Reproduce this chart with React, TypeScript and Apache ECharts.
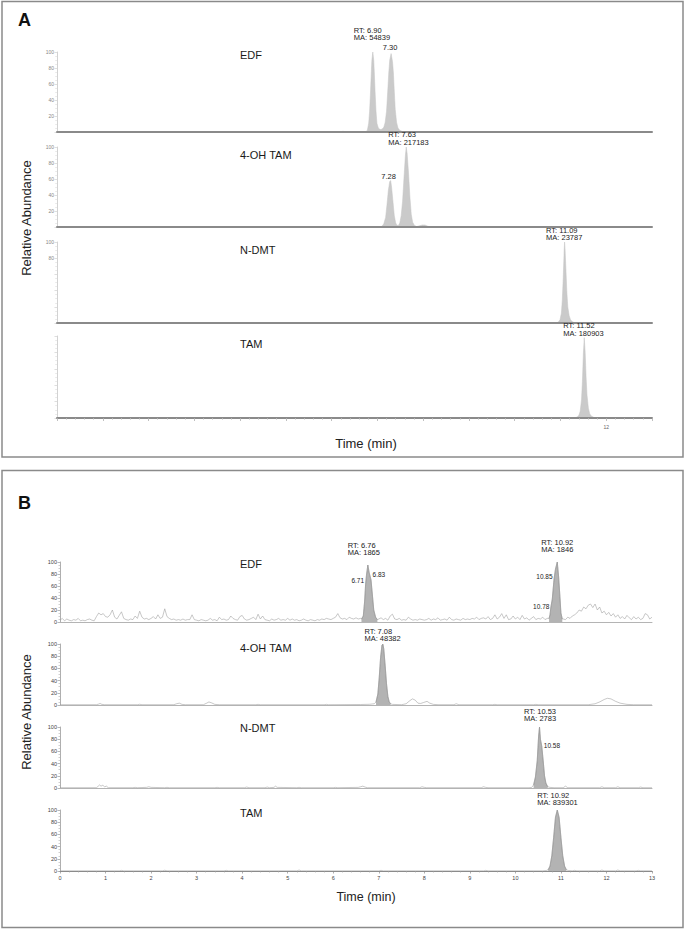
import React, { useEffect, useRef } from "react";
import * as echarts from "echarts";

type P = [number, number];

// ---------- shared axis data ----------
const TIME_MIN = 0;
const TIME_MAX = 13;
const COMPOUNDS = ["EDF", "4-OH TAM", "N-DMT", "TAM"];
const A_X_TICK_LABELS = [12];
const B_X_TICK_LABELS = [0, 1, 2, 3, 4, 5, 6, 7, 8, 9, 10, 11, 12, 13];
const A_Y_TICK_LABELS = [[20, 40, 60, 80, 100], [20, 40, 60, 80, 100], [80, 100], []];
const B_Y_TICK_LABELS = [0, 20, 40, 60, 80, 100];

// ---------- panel A traces (time, relative abundance) ----------
const A_EDF: P[] = [
  [0, 0], [6.2, 0], [6.25, 1], [6.3, 0], [6.74, 0], [6.78, 2], [6.81, 11], [6.83, 26], [6.85, 50],
  [6.87, 78], [6.88, 90], [6.9, 100], [6.92, 90], [6.93, 78], [6.95, 50], [6.97, 26], [6.99, 11],
  [7.02, 5], [7.06, 3], [7.1, 3.5], [7.14, 6], [7.17, 12], [7.2, 26], [7.22, 45], [7.25, 75],
  [7.27, 90], [7.3, 98], [7.33, 88], [7.35, 74], [7.37, 50], [7.39, 28], [7.42, 12], [7.45, 5],
  [7.49, 2], [7.55, 0.5], [7.6, 0], [13, 0],
];
const A_4OH: P[] = [
  [0, 0], [7.05, 0], [7.1, 1], [7.14, 4], [7.18, 12], [7.21, 28], [7.24, 46], [7.27, 57], [7.29, 58],
  [7.31, 50], [7.34, 32], [7.37, 14], [7.4, 5], [7.43, 2], [7.46, 2], [7.49, 5], [7.52, 14],
  [7.55, 32], [7.58, 60], [7.61, 88], [7.63, 100], [7.65, 92], [7.68, 68], [7.71, 38], [7.74, 16],
  [7.77, 6], [7.81, 2], [7.86, 0.5], [7.92, 1.5], [7.98, 2.5], [8.04, 2.5], [8.1, 1], [8.16, 0], [13, 0],
];
const A_NDMT: P[] = [
  [0, 0], [10.9, 0], [10.95, 1], [10.99, 4], [11.02, 12], [11.04, 28], [11.06, 55], [11.08, 88],
  [11.09, 100], [11.1, 92], [11.12, 65], [11.14, 38], [11.16, 20], [11.19, 9], [11.22, 4],
  [11.26, 1.5], [11.3, 0.5], [11.35, 0], [13, 0],
];
const A_TAM: P[] = [
  [0, 0], [11.3, 0], [11.36, 1], [11.4, 3], [11.43, 8], [11.46, 22], [11.48, 45], [11.5, 78],
  [11.52, 98], [11.54, 80], [11.56, 50], [11.58, 28], [11.61, 12], [11.64, 5], [11.68, 2],
  [11.74, 0.5], [11.8, 0], [13, 0],
];
const A_TRACES = [A_EDF, A_4OH, A_NDMT, A_TAM];
const A_RT = [6.9, 7.63, 11.09, 11.52];
const A_RT_LEVEL = [100, 100, 100, 98];
const A_MA = [54839, 217183, 23787, 180903];

// ---------- panel B traces ----------
const B_EDF_STEP = 0.05; // sampling step of the noise trace, min
const B_EDF_NOISE: number[] = [
  3, 6, 2, 5, 3, 2, 4, 3, 6, 2, 3, 2, 4, 5, 3, 2, 9, 15, 12, 14,
  9, 8, 12, 20, 8, 5, 11, 17, 6, 4, 3, 5, 4, 10, 6, 18, 8, 5, 6, 4,
  6, 9, 5, 12, 6, 8, 22, 9, 6, 4, 5, 3, 4, 3, 5, 3, 4, 4, 12, 4,
  3, 2, 4, 3, 2, 3, 6, 3, 4, 2, 8, 4, 5, 3, 4, 10, 6, 4, 3, 9,
  11, 5, 3, 4, 6, 8, 4, 13, 5, 10, 4, 3, 2, 5, 3, 4, 6, 3, 4, 3,
  6, 3, 5, 3, 4, 2, 3, 5, 3, 2, 4, 3, 2, 4, 3, 5, 4, 6, 5, 4,
  6, 8, 14, 7, 5, 6, 4, 8, 6, 5, 7, 5, 6, 8, 58, 94, 72, 45, 15, 4,
  5, 7, 4, 6, 3, 10, 13, 5, 4, 6, 3, 4, 3, 8, 5, 3, 4, 3, 5, 4,
  3, 4, 6, 3, 5, 4, 7, 3, 4, 5, 3, 8, 4, 3, 5, 4, 3, 6, 4, 5,
  4, 6, 5, 8, 4, 6, 7, 5, 9, 4, 6, 12, 5, 8, 14, 6, 12, 4, 5, 10,
  5, 8, 4, 11, 5, 7, 3, 6, 9, 4, 6, 5, 8, 4, 6, 8, 22, 70, 95, 70,
  15, 5, 4, 8, 6, 10, 12, 15, 20, 18, 25, 22, 28, 30, 24, 30, 20, 25, 15, 18,
  12, 16, 10, 14, 8, 12, 6, 9, 5, 11, 7, 4, 9, 5, 8, 4, 6, 14, 12, 5,
  8,
];
const B_EDF_PEAK1: P[] = [
  [6.62, 5], [6.66, 10], [6.69, 35], [6.71, 62], [6.73, 78], [6.76, 95], [6.79, 82], [6.83, 70],
  [6.86, 45], [6.89, 20], [6.93, 8], [6.97, 4],
];
const B_EDF_PEAK2: P[] = [
  [10.74, 6], [10.76, 12], [10.78, 25], [10.81, 38], [10.85, 72], [10.88, 88], [10.92, 100],
  [10.95, 75], [10.98, 40], [11.0, 15], [11.03, 5],
];
const B_4OH: P[] = [
  [0, 0.5], [0.8, 0.5], [0.85, 1.5], [0.88, 2.5], [0.92, 1], [0.98, 0.5], [1.7, 0.5], [1.75, 1.2],
  [1.8, 0.5], [2.5, 0.5], [2.56, 2], [2.62, 3], [2.68, 1], [2.75, 0.5], [3.15, 0.5], [3.22, 3],
  [3.27, 5], [3.33, 3.5], [3.4, 1], [3.5, 0.5], [4.3, 0.5], [4.35, 1], [4.4, 0.5], [5.8, 0.5],
  [5.85, 1], [5.9, 0.5], [6.6, 0.8], [6.8, 1.2], [6.9, 2], [6.94, 5], [6.98, 18], [7.01, 45],
  [7.04, 78], [7.07, 98], [7.09, 100], [7.11, 92], [7.14, 65], [7.17, 35], [7.2, 14], [7.23, 5],
  [7.26, 2], [7.3, 1], [7.5, 0.5], [7.6, 2], [7.68, 7], [7.74, 10], [7.8, 8], [7.86, 3], [7.92, 2.5],
  [7.98, 4], [8.06, 6], [8.12, 3], [8.2, 1], [8.3, 0.5], [8.65, 0.5], [8.7, 2], [8.76, 0.5],
  [9.5, 0.5], [9.55, 1], [9.6, 0.5], [10.4, 0.5], [10.45, 1], [10.5, 0.5], [11.6, 0.5], [11.75, 2],
  [11.85, 5], [11.95, 9], [12.02, 11], [12.1, 10], [12.2, 6], [12.3, 3], [12.45, 1], [12.6, 0.5],
  [13, 0.5],
];
const B_NDMT: P[] = [
  [0, 0.5], [0.8, 0.5], [0.84, 3], [0.87, 5], [0.9, 3], [0.94, 4.5], [0.98, 2], [1.02, 3], [1.06, 0.5],
  [1.6, 0.5], [1.65, 1], [1.7, 0.5], [1.9, 1], [1.95, 2], [2.0, 1], [2.3, 0.5], [2.35, 1], [2.4, 0.5],
  [3.4, 0.5], [3.45, 1], [3.5, 0.5], [4.05, 0.5], [4.1, 1.5], [4.15, 0.5], [4.5, 0.5], [4.55, 1.5],
  [4.6, 0.5], [4.7, 1], [4.73, 3], [4.77, 1], [5.2, 0.5], [5.25, 1], [5.3, 0.5], [6.0, 0.5],
  [6.05, 1], [6.1, 0.5], [6.55, 1], [6.6, 2], [6.65, 3], [6.7, 1.5], [6.75, 0.5], [7.9, 0.5],
  [7.95, 2], [8.0, 1], [8.05, 0.5], [9.25, 0.5], [9.3, 2], [9.35, 1], [9.4, 0.5], [10.3, 0.5],
  [10.36, 1], [10.4, 5], [10.44, 18], [10.48, 45], [10.51, 85], [10.53, 100], [10.55, 80],
  [10.58, 68], [10.61, 45], [10.64, 20], [10.67, 8], [10.71, 2], [10.76, 1], [10.85, 0.5],
  [11.05, 0.5], [11.1, 3], [11.15, 0.5], [11.85, 0.5], [11.9, 2], [11.95, 0.5], [12.2, 0.5],
  [12.25, 2], [12.3, 0.5], [12.7, 0.5], [12.75, 1.5], [12.8, 0.5], [13, 0.5],
];
const B_TAM: P[] = [
  [0, 0.3], [1.3, 0.3], [1.35, 1], [1.4, 0.3], [2.25, 0.3], [2.3, 1.2], [2.35, 0.3], [3.6, 0.3],
  [3.65, 1], [3.7, 0.3], [5.2, 0.3], [5.25, 1.5], [5.3, 0.3], [7.0, 0.3], [7.05, 1], [7.1, 0.3],
  [9.3, 0.3], [9.35, 1], [9.4, 0.3], [10.6, 0.3], [10.68, 0.8], [10.72, 2], [10.76, 8], [10.8, 25],
  [10.84, 55], [10.88, 88], [10.92, 100], [10.96, 88], [11.0, 55], [11.04, 25], [11.08, 8],
  [11.12, 2], [11.16, 0.8], [11.25, 0.3], [11.3, 1], [11.35, 0.3], [11.85, 0.3], [11.9, 1.5],
  [11.95, 0.3], [12.2, 0.3], [12.25, 1.5], [12.3, 0.3], [12.65, 0.3], [12.7, 1], [12.75, 0.3],
  [13, 0.3],
];
// integration windows (start, end) of the filled peaks
const B_PEAK_WINDOWS: P[][] = [
  [[6.62, 6.97], [10.74, 11.03]],
  [[6.92, 7.26]],
  [[10.37, 10.72]],
  [[10.7, 11.14]],
];
const B_RT = [[6.76, 10.92], [7.08], [10.53], [10.92]];
const B_RT_LEVEL = [[95, 100], [100], [100], [100]];
const B_MA = [[1865, 1846], [48382], [2783], [839301]];

const FONT = "'Liberation Sans', Arial, Helvetica, sans-serif";

function buildEdfTrace(): P[] {
  const pts: P[] = [];
  B_EDF_NOISE.forEach((v, i) => {
    const t = +(i * B_EDF_STEP).toFixed(2);
    if (B_PEAK_WINDOWS[0].some(([a, b]) => t >= a && t <= b)) return;
    pts.push([t, v]);
  });
  pts.push(...B_EDF_PEAK1, ...B_EDF_PEAK2);
  pts.sort((a, b) => a[0] - b[0]);
  return pts;
}

export default function App() {
  const ref = useRef<HTMLDivElement>(null);

  useEffect(() => {
    if (!ref.current) return;
    const chart = echarts.init(ref.current, undefined, { renderer: "svg" });

    // layout (px)
    const aLeft = 57, aWidth = 595;
    const bLeft = 60, bWidth = 592;
    const aGrids = [
      { top: 52, height: 80 },
      { top: 147, height: 80 },
      { top: 242, height: 81 },
      { top: 336, height: 82 },
    ];
    const bGrids = [
      { top: 562, height: 60 },
      { top: 644, height: 61 },
      { top: 727, height: 61 },
      { top: 810, height: 61 },
    ];

    const grid: any[] = [];
    const xAxis: any[] = [];
    const yAxis: any[] = [];
    const series: any[] = [];

    const rtLabel = (text: string, dx: number, dist: number) => ({
      formatter: text,
      position: "top",
      align: "left",
      offset: [dx, 0],
      distance: dist,
      fontSize: 7.5,
      lineHeight: 7.6,
      color: "#222",
      fontFamily: FONT,
    });
    const smallLabel = (text: string, pos: string, oy: number, dist = 1, fs = 7.5) => ({
      formatter: text,
      position: pos,
      offset: [0, oy],
      distance: dist,
      fontSize: fs,
      color: "#222",
      fontFamily: FONT,
    });
    const mp = (items: any[]) => ({
      symbol: "circle",
      symbolSize: 1,
      silent: true,
      animation: false,
      itemStyle: { color: "rgba(0,0,0,0)" },
      data: items,
    });

    // ----- panel A -----
    const aRtDx = [-19, -18, -18.5, -21];
    const aRtDist = [10, 0.5, 0, 0];
    aGrids.forEach((g, i) => {
      grid.push({ left: aLeft, width: aWidth, top: g.top, height: g.height });
      const isBottom = i === 3;
      xAxis.push({
        type: "value", gridIndex: i, min: TIME_MIN, max: TIME_MAX, interval: 1, z: 3,
        axisLine: { show: true, onZero: false, lineStyle: { color: "#8a8a8a", width: 2 } },
        axisTick: { show: isBottom, length: 3, lineStyle: { color: "#b0b0b0", width: 0.8 } },
        minorTick: { show: isBottom, splitNumber: 5, length: 2, lineStyle: { color: "#c8c8c8", width: 0.6 } },
        axisLabel: {
          show: isBottom, fontSize: 5, color: "#666", margin: 6, fontFamily: FONT,
          formatter: (v: number) => (A_X_TICK_LABELS.includes(v) ? String(v) : ""),
        },
        splitLine: { show: false },
      });
      const labs = A_Y_TICK_LABELS[i];
      yAxis.push({
        type: "value", gridIndex: i, min: 0, max: 100, interval: 20,
        axisLine: { show: true, lineStyle: { color: "#d2d2d2", width: 1 } },
        axisTick: { show: true, length: 2.5, lineStyle: { color: "#d0d0d0", width: 0.7 } },
        minorTick: { show: true, splitNumber: 4, length: 1.8, lineStyle: { color: "#dcdcdc", width: 0.6 } },
        axisLabel: {
          fontSize: 5, color: "#888", margin: 3, fontFamily: FONT,
          formatter: (v: number) => (labs.includes(v) ? String(v) : ""),
        },
        splitLine: { show: false },
      });
      const items: any[] = [
        {
          coord: [A_RT[i], A_RT_LEVEL[i]],
          label: rtLabel(`RT: ${A_RT[i].toFixed(2)}\nMA: ${A_MA[i]}`, aRtDx[i], aRtDist[i]),
        },
      ];
      if (i === 0) items.push({ coord: [7.3, 98], label: { ...smallLabel("7.30", "top", 0, 2), offset: [-1, 0] } });
      if (i === 1) items.push({ coord: [7.29, 58], label: { ...smallLabel("7.28", "top", 0, 0), offset: [-2, 0] } });
      series.push({
        type: "line", xAxisIndex: i, yAxisIndex: i, data: A_TRACES[i],
        showSymbol: false, symbol: "none", silent: true, z: 2,
        lineStyle: { color: "#c4c4c4", width: 0.5 },
        areaStyle: { color: "#cacaca", opacity: 1 },
        markPoint: mp(items),
      });
    });

    // ----- panel B -----
    const bTraces = [buildEdfTrace(), B_4OH, B_NDMT, B_TAM];
    const bRtDx = [[-20, -16], [-18], [-15.5], [-20]];
    const bRtDist = [[8, 8], [1], [4], [3]];
    bGrids.forEach((g, j) => {
      const i = j + 4;
      grid.push({ left: bLeft, width: bWidth, top: g.top, height: g.height });
      const isBottom = j === 3;
      xAxis.push({
        type: "value", gridIndex: i, min: TIME_MIN, max: TIME_MAX, interval: 1, z: 3,
        axisLine: { show: true, onZero: false, lineStyle: { color: isBottom ? "#8c8c8c" : "#b4b4b4", width: 1 } },
        axisTick: { show: isBottom, length: 2.5, lineStyle: { color: "#8c8c8c", width: 0.7 } },
        minorTick: { show: isBottom, splitNumber: 5, length: 1.5, lineStyle: { color: "#a0a0a0", width: 0.6 } },
        axisLabel: {
          show: isBottom, fontSize: 5.5, color: "#444", margin: 4, fontFamily: FONT,
          formatter: (v: number) => (B_X_TICK_LABELS.includes(v) ? String(v) : ""),
        },
        splitLine: { show: false },
      });
      yAxis.push({
        type: "value", gridIndex: i, min: 0, max: 100, interval: 20,
        axisLine: { show: true, lineStyle: { color: "#9a9a9a", width: 0.8 } },
        axisTick: { show: true, length: 2.5, lineStyle: { color: "#9a9a9a", width: 0.7 } },
        minorTick: { show: true, splitNumber: 4, length: 1.5, lineStyle: { color: "#b0b0b0", width: 0.6 } },
        axisLabel: {
          fontSize: 5.5, color: "#444", margin: 3, fontFamily: FONT,
          formatter: (v: number) => (B_Y_TICK_LABELS.includes(v) ? String(v) : ""),
        },
        splitLine: { show: false },
      });
      const trace = bTraces[j];
      B_PEAK_WINDOWS[j].forEach(([a, b], k) => {
        const seg = trace.filter(([t]) => t >= a && t <= b);
        const items: any[] = [
          {
            coord: [B_RT[j][k], B_RT_LEVEL[j][k]],
            label: rtLabel(`RT: ${B_RT[j][k].toFixed(2)}\nMA: ${B_MA[j][k]}`, bRtDx[j][k], bRtDist[j][k]),
          },
        ];
        if (j === 0 && k === 0) {
          items.push({ coord: [6.71, 62], label: smallLabel("6.71", "left", -4, 1, 6.5) });
          items.push({ coord: [6.83, 70], label: smallLabel("6.83", "right", -6, 1, 6.5) });
        }
        if (j === 0 && k === 1) {
          items.push({ coord: [10.85, 72], label: smallLabel("10.85", "left", -2, 1, 6.5) });
          items.push({ coord: [10.78, 25], label: smallLabel("10.78", "left", -1, 1, 6.5) });
        }
        if (j === 2) {
          items.push({ coord: [10.58, 68], label: smallLabel("10.58", "right", -1.5, 1.5, 6.5) });
        }
        series.push({
          type: "line", xAxisIndex: i, yAxisIndex: i, data: seg,
          showSymbol: false, symbol: "none", silent: true, z: 2,
          lineStyle: { color: "#8a8a8a", width: 0.5 },
          areaStyle: { color: "#b3b3b3", opacity: 1 },
          markPoint: mp(items),
        });
      });
      series.push({
        type: "line", xAxisIndex: i, yAxisIndex: i, data: trace,
        showSymbol: false, symbol: "none", silent: true, z: 3,
        lineStyle: { color: "#9a9a9a", width: 0.55 },
      });
    });

    const txt = (text: string, x: number, y: number, size: number, extra: any = {}) => ({
      type: "text",
      x, y, silent: true,
      style: {
        text, fontSize: size, fontFamily: FONT, fill: "#1a1a1a",
        textAlign: "left", textVerticalAlign: "middle", ...extra,
      },
    });
    const aNameY = [55, 155, 250, 344];
    const bNameY = [564, 648, 728, 813];

    const graphic: any[] = [
      { type: "rect", shape: { x: 2, y: 1.5, width: 681, height: 455.5 }, style: { fill: "none", stroke: "#8a8a8a", lineWidth: 1.5 }, silent: true },
      { type: "rect", shape: { x: 2, y: 470.5, width: 681, height: 457 }, style: { fill: "none", stroke: "#8a8a8a", lineWidth: 1.5 }, silent: true },
      txt("A", 18, 19.5, 18, { fontWeight: "bold", fill: "#111" }),
      txt("B", 18, 503, 18, { fontWeight: "bold", fill: "#111" }),
      ...COMPOUNDS.map((c, i) => txt(c, 240, aNameY[i], 11)),
      ...COMPOUNDS.map((c, i) => txt(c, 240, bNameY[i], 11)),
      txt("Time (min)", 366, 443, 13, { textAlign: "center", fill: "#222" }),
      txt("Time (min)", 366, 897, 12.5, { textAlign: "center", fill: "#222" }),
      { ...txt("Relative Abundance", 26, 218, 13, { textAlign: "center", fill: "#222" }), rotation: Math.PI / 2 },
      { ...txt("Relative Abundance", 26, 712, 13, { textAlign: "center", fill: "#222" }), rotation: Math.PI / 2 },
    ];

    chart.setOption({
      animation: false,
      backgroundColor: "#ffffff",
      textStyle: { fontFamily: FONT },
      grid, xAxis, yAxis, series, graphic,
    });

    return () => chart.dispose();
  }, []);

  return (
    <div
      ref={ref}
      style={{ position: "absolute", left: 0, top: 0, width: 685, height: 929, background: "#fff" }}
    />
  );
}
